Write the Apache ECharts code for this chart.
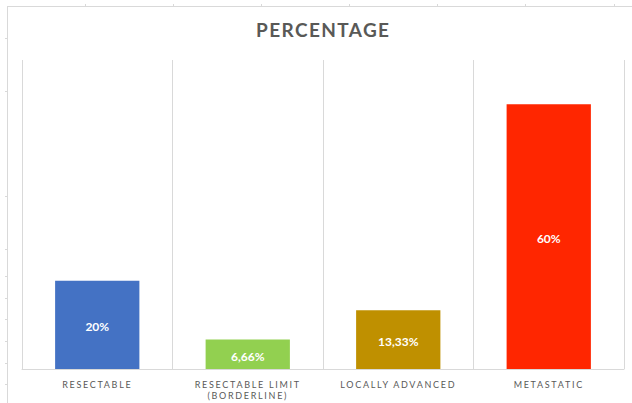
<!DOCTYPE html>
<html>
<head>
<meta charset="utf-8">
<script src="https://cdn.jsdelivr.net/npm/echarts@6/dist/echarts.min.js"></script>
<style>
  html, body { margin: 0; padding: 0; background: #ffffff; }
  #chart { width: 632px; height: 403px; }
  /* spaced-out capitals for the category names and the heading */
  #chart text[fill="#595958"], #chart text[style*="#595958"] { letter-spacing: 1.7px; }
  #chart text[fill="#595957"], #chart text[style*="#595957"] { letter-spacing: 1.4px; }
</style>
</head>
<body>
<div id="chart"></div>
<script>
// Stage distribution
const categories = ['RESECTABLE', 'RESECTABLE LIMIT\n(BORDERLINE)', 'LOCALLY ADVANCED', 'METASTATIC'];
const percentages = [20, 6.66, 13.33, 60];
const valueLabels = ['20%', '6,66%', '13,33%', '60%'];
const barColors = ['#4472C4', '#92D050', '#BF9000', '#FF2600'];

const frameColor = '#d9d9d9';
const frameTicksTop = [85, 173, 261, 349, 437, 525, 614];
const frameTicksLeft = [38, 91, 196, 249, 276, 298, 319, 341, 363, 384];

const frameGraphics = [
  { type: 'line', shape: { x1: 7, y1: 6.5, x2: 632, y2: 6.5 }, style: { stroke: frameColor, lineWidth: 1 }, silent: true },
  { type: 'line', shape: { x1: 7.5, y1: 6, x2: 7.5, y2: 403 }, style: { stroke: frameColor, lineWidth: 1 }, silent: true }
];
frameTicksTop.forEach(x => frameGraphics.push({
  type: 'line', shape: { x1: x + 0.5, y1: 4, x2: x + 0.5, y2: 6 }, style: { stroke: frameColor, lineWidth: 1 }, silent: true
}));
frameTicksLeft.forEach(y => frameGraphics.push({
  type: 'line', shape: { x1: 5, y1: y + 0.5, x2: 7, y2: y + 0.5 }, style: { stroke: frameColor, lineWidth: 1 }, silent: true
}));

const chart = echarts.init(document.getElementById('chart'), null, { renderer: 'svg' });
chart.setOption({
  animation: false,
  backgroundColor: '#ffffff',
  title: {
    text: 'PERCENTAGE',
    left: 256,
    top: 19,
    padding: 0,
    textStyle: { fontFamily: 'Lato', fontWeight: 'bold', fontSize: 19, color: '#595957', lineHeight: 20 }
  },
  graphic: frameGraphics,
  grid: { left: 22, right: 8, top: 60, bottom: 34, containLabel: false },
  xAxis: {
    type: 'category',
    data: categories,
    axisLine: { show: true, lineStyle: { color: frameColor, width: 1 } },
    axisTick: { show: false },
    splitLine: { show: true, lineStyle: { color: frameColor, width: 1 } },
    axisLabel: {
      interval: 0,
      margin: 10,
      fontFamily: 'Lato',
      fontSize: 9,
      lineHeight: 11,
      color: '#595958'
    }
  },
  yAxis: {
    type: 'value',
    min: 0,
    max: 70,
    show: false,
    splitLine: { show: false }
  },
  series: [{
    type: 'bar',
    barWidth: '56%',
    data: percentages.map((v, i) => ({ value: v, itemStyle: { color: barColors[i] } })),
    label: {
      show: true,
      position: 'inside',
      offset: [0, 2],
      fontFamily: 'Lato',
      fontWeight: 'bold',
      fontSize: 12,
      color: '#ffffff',
      formatter: p => valueLabels[p.dataIndex]
    }
  }]
});
</script>
</body>
</html>
